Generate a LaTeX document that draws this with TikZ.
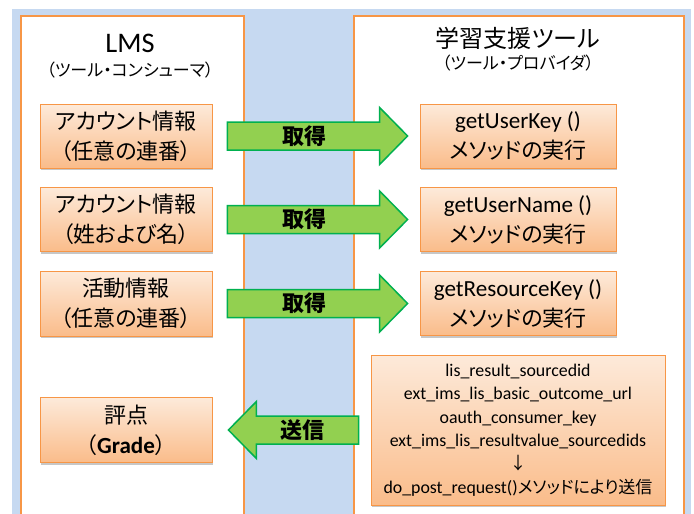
\documentclass[tikz,border=0pt]{standalone}
\usepackage{fontspec}
\setmainfont{Noto Sans CJK JP}[RawFeature=+palt]
\newfontfamily\en{Carlito}[Scale=1.05]
\usetikzlibrary{calc,shadows}
\definecolor{bgblue}{RGB}{198,217,241}
\definecolor{panelorange}{RGB}{247,150,70}
\definecolor{boxtop}{RGB}{253,234,218}
\definecolor{boxbottom}{RGB}{250,188,138}
\definecolor{arrowfill}{RGB}{146,208,80}
\definecolor{arrowline}{RGB}{0,176,80}
\newcommand\blockarrow[4]{%
  \draw[garrow] ($(#1)+(0,-14)$) -- ($(#2)+({-28*#4},-14)$) -- ($(#2)+({-28*#4},-28.5)$) -- (#2)
    -- ($(#2)+({-28*#4},28.5)$) -- ($(#2)+({-28*#4},14)$) -- ($(#1)+(0,14)$) -- cycle;
  \node[alabel] at ($(#1)!0.43!(#2)$) {#3};}
\begin{document}
\begin{tikzpicture}[x=1pt,y=-1pt,
  panel/.style={draw=panelorange,line width=2pt,fill=white,anchor=north west,inner sep=0pt},
  infobox/.style={draw=panelorange,line width=0.8pt,top color=boxtop,bottom color=boxbottom,
    align=center,inner sep=0pt,drop shadow={shadow xshift=1pt,shadow yshift=-2pt,fill=black,opacity=0.22},
    font=\fontsize{22}{30}\selectfont},
  bigtext/.style={font=\fontsize{17}{23.3}\selectfont},
  title/.style={font=\fontsize{24}{28}\selectfont},
  subtitle/.style={font=\fontsize{17}{20}\selectfont},
  garrow/.style={fill=arrowfill,draw=arrowline,line width=1.5pt,line join=miter},
  alabel/.style={font=\fontsize{22}{26}\selectfont\bfseries}]
\useasboundingbox (0,0) rectangle (694,514);
\fill[bgblue] (12,9) rectangle (691,514);
\node[panel,minimum width=223pt,minimum height=520pt] (lms) at (20,15) {};
\node[panel,minimum width=330pt,minimum height=520pt] (tool) at (353,15) {};
% titles
\node[font=\en\fontsize{27}{30}\selectfont] (lmsT) at (130,43) {LMS};
\node[subtitle] (lmsS) at (130,70) {（ツール・コンシューマ）};
\node[title] (toolT) at (518,38) {学習支援ツール};
\node[subtitle] (toolS) at (518,63) {（ツール・プロバイダ）};
% left boxes
\node[infobox,minimum width=172pt,minimum height=64pt] (l1) at (126,136) {アカウント情報\\（任意の連番）};
\node[infobox,minimum width=172pt,minimum height=64pt] (l2) at (126,219.5) {アカウント情報\\（姓および名）};
\node[infobox,minimum width=172pt,minimum height=65pt] (l3) at (126,303.5) {活動情報\\（任意の連番）};
\node[infobox,minimum width=172pt,minimum height=65pt] (l4) at (126,430) {評点\\（{\en\bfseries Grade}）};
% right boxes
\node[infobox,minimum width=196pt,minimum height=64pt] (r1) at (518,136) {{\en getUserKey ()}\\メソッドの実行};
\node[infobox,minimum width=196pt,minimum height=64pt] (r2) at (518,219.5) {{\en getUserName ()}\\メソッドの実行};
\node[infobox,minimum width=196pt,minimum height=64pt] (r3) at (518,303.5) {{\en getResourceKey ()}\\メソッドの実行};
\node[infobox,bigtext,minimum width=294pt,minimum height=150pt] (big) at (518,430)
  {{\en lis\_result\_sourcedid}\\{\en ext\_ims\_lis\_basic\_outcome\_url}\\{\en oauth\_consumer\_key}\\{\en ext\_ims\_lis\_resultvalue\_sourcedids}\\↓\\{\en do\_post\_request()}メソッドにより送信};
% arrow end points
\coordinate (a1t) at ($(l1.east)+(15,0)$); \coordinate (a1h) at ($(r1.west)+(-12,0)$);
\coordinate (a2t) at ($(l2.east)+(15,0)$); \coordinate (a2h) at ($(r2.west)+(-12,0)$);
\coordinate (a3t) at ($(l3.east)+(15,0)$); \coordinate (a3h) at ($(r3.west)+(-12,0)$);
\coordinate (a4t) at ($(big.west)+(-12,0)$); \coordinate (a4h) at ($(l4.east)+(16,0)$);
\blockarrow{a1t}{a1h}{取得}{1}
\blockarrow{a2t}{a2h}{取得}{1}
\blockarrow{a3t}{a3h}{取得}{1}
\blockarrow{a4t}{a4h}{送信}{-1}
\end{tikzpicture}
\end{document}
